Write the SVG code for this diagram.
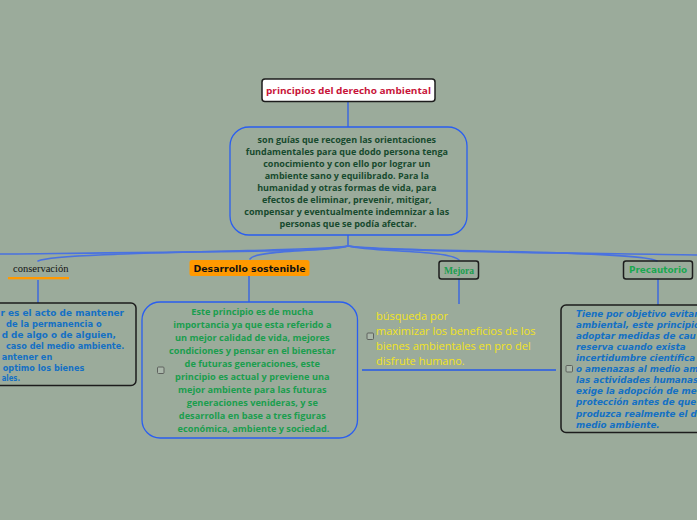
<svg xmlns="http://www.w3.org/2000/svg" width="697" height="520" viewBox="0 0 697 520">
<style>
.bg{fill:#9bab9b}
.ln{fill:none;stroke:#2f5fe6;stroke-width:1.3}
.br{fill:none;stroke:#4a72e0;stroke-width:1.6;stroke-linecap:round}
.box{fill:none;stroke:#1c1c1c;stroke-width:1.5}
.rbox{fill:none;stroke:#2a5ef0;stroke-width:1.3}
.chk{fill:#aab7aa;stroke:#5e625e;stroke-width:1}
.ubu{font-family:"Open Sans","DejaVu Sans",sans-serif}
.dv{font-family:"DejaVu Sans","Verdana",sans-serif;font-weight:bold}
.cen{font-size:9px;font-weight:bold;fill:#174a2e;text-anchor:middle}
.des{font-size:9.2px;font-weight:bold;fill:#1a9e4e;text-anchor:middle}
.mej{font-size:11px;fill:#f2e41e}
.con{font-size:8.5px;fill:#1470c4}
.pre{font-size:8.8px;fill:#1470c4;font-style:italic}
</style>
<rect class="bg" x="0" y="0" width="697" height="520"/>

<g id="connectors">
<line class="ln" x1="348" y1="102" x2="348" y2="127"/>
<line class="ln" x1="348" y1="235" x2="348" y2="246"/>
<path class="br" d="M348,246 C335,251 300,251 0,254"/>
<path class="br" d="M348,246 C320,252 60,251 38,261"/>
<path class="br" d="M348,246 C330,251 255,250 250,259"/>
<path class="br" d="M348,246 C370,252 450,250 459,260"/>
<path class="br" d="M348,246 C380,252 640,250 657,261"/>
<path class="br" d="M348,246 C380,251 500,252 697,255"/>
<line class="ln" x1="38" y1="280" x2="38" y2="303"/>
<line class="ln" x1="249" y1="276" x2="249" y2="302"/>
<line class="ln" x1="459" y1="279" x2="459" y2="304"/>
<line class="ln" x1="658" y1="279" x2="658" y2="305"/>
<line x1="362" y1="370" x2="556" y2="370" stroke="#2458e8" stroke-width="1.6"/>
</g>

<g id="root">
<rect x="262" y="79" width="173" height="22.5" rx="3" fill="#ffffff" stroke="#1c1c1c" stroke-width="1.5"/>
<text class="ubu" x="348.5" y="94" font-size="9.5" font-weight="bold" fill="#c8153a" text-anchor="middle" textLength="165" lengthAdjust="spacingAndGlyphs">principios del derecho ambiental</text>
</g>

<g id="central">
<rect class="rbox" x="230" y="127" width="237" height="108" rx="19"/>
<text class="ubu cen">
<tspan x="348" y="142.5">son guías que recogen las orientaciones</tspan>
<tspan x="348" y="154.5">fundamentales para que dodo persona tenga</tspan>
<tspan x="348" y="166.5">conocimiento y con ello por lograr un</tspan>
<tspan x="348" y="178.5">ambiente sano y equilibrado. Para la</tspan>
<tspan x="348" y="190.5">humanidad y otras formas de vida, para</tspan>
<tspan x="348" y="202.5">efectos de eliminar, prevenir, mitigar,</tspan>
<tspan x="348" y="214.5">compensar y eventualmente indemnizar a las</tspan>
<tspan x="348" y="226.5">personas que se podía afectar.</tspan>
</text>
</g>

<g id="conservacion">
<text x="13" y="272" font-family="Liberation Serif,serif" font-size="10.5" fill="#111">conservación</text>
<rect x="8" y="277" width="61" height="2.3" fill="#ff9900"/>
<rect class="box" x="-10" y="303" width="146" height="82.5" rx="5"/>
<text class="dv con" x="0.5" y="316" textLength="123.5" lengthAdjust="spacingAndGlyphs">r es el acto de mantener</text>
<text class="dv con" x="6" y="327" textLength="95.7" lengthAdjust="spacingAndGlyphs">de la permanencia o</text>
<text class="dv con" x="1.7" y="338" textLength="114.3" lengthAdjust="spacingAndGlyphs">d de algo o de alguien,</text>
<text class="dv con" x="6" y="348.8" textLength="118.3" lengthAdjust="spacingAndGlyphs">caso del medio ambiente.</text>
<text class="dv con" x="1.7" y="359.7" textLength="50.6" lengthAdjust="spacingAndGlyphs">antener en</text>
<text class="dv con" x="2.7" y="370.5" textLength="81.6" lengthAdjust="spacingAndGlyphs">optimo los bienes</text>
<text class="dv con" x="1.7" y="381.3" textLength="18.3" lengthAdjust="spacingAndGlyphs">ales.</text>
</g>

<g id="desarrollo">
<rect x="189.5" y="260" width="120" height="16" rx="2.5" fill="#ff9900"/>
<text class="dv" x="249.5" y="272" font-size="9.3" fill="#111" text-anchor="middle" textLength="112" lengthAdjust="spacingAndGlyphs">Desarrollo sostenible</text>
<rect class="rbox" x="142" y="302" width="215.5" height="136" rx="18"/>
<rect class="chk" x="157.5" y="367" width="6.5" height="6.5" rx="1"/>
<text class="ubu des">
<tspan x="253.5" y="315.3">Este principio es de mucha</tspan>
<tspan x="253.5" y="328.3">importancia ya que esta referido a</tspan>
<tspan x="253.5" y="341.2">un mejor calidad de vida, mejores</tspan>
<tspan x="253.5" y="354.2">condiciones y pensar en el bienestar</tspan>
<tspan x="253.5" y="367.2">de futuras generaciones, este</tspan>
<tspan x="253.5" y="380.2">principio es actual y  previene una</tspan>
<tspan x="253.5" y="393.1">mejor ambiente para las futuras</tspan>
<tspan x="253.5" y="406.1">generaciones venideras,  y se</tspan>
<tspan x="253.5" y="419.1">desarrolla en base a tres figuras</tspan>
<tspan x="253.5" y="432.1">económica, ambiente y sociedad.</tspan>
</text>
</g>

<g id="mejora">
<rect class="box" x="439" y="261" width="39.5" height="18" rx="2.5"/>
<text x="459" y="273.5" font-family="Liberation Serif,serif" font-size="9.5" font-weight="bold" fill="#1a9e4e" text-anchor="middle">Mejora</text>
<rect class="chk" x="367" y="333" width="6.5" height="6.5" rx="1"/>
<text class="ubu mej">
<tspan x="376" y="319.6">búsqueda por</tspan>
<tspan x="376" y="334.6">maximizar los beneficios de los</tspan>
<tspan x="376" y="349.6">bienes ambientales en pro del</tspan>
<tspan x="376" y="364.6">disfrute humano.</tspan>
</text>
</g>

<g id="precautorio">
<rect class="box" x="623.5" y="261" width="69" height="18" rx="2.5"/>
<text class="dv" x="658" y="273.3" font-size="8.8" fill="#1aa850" text-anchor="middle" textLength="58" lengthAdjust="spacingAndGlyphs">Precautorio</text>
<rect class="box" x="561" y="305" width="150" height="127.5" rx="5"/>
<rect class="chk" x="566" y="365.5" width="6.5" height="6.5" rx="1"/>
<text class="dv pre">
<tspan x="576" y="317.2">Tiene por objetivo evitar</tspan>
<tspan x="576" y="328.2">ambiental, este principio</tspan>
<tspan x="576" y="339.3">adoptar medidas de cau</tspan>
<tspan x="576" y="350.3">reserva cuando exista</tspan>
<tspan x="576" y="361.3">incertidumbre científica</tspan>
<tspan x="576" y="372.4">o amenazas al medio am</tspan>
<tspan x="576" y="383.4">las actividades humanas</tspan>
<tspan x="576" y="394.4">exige la adopción de me</tspan>
<tspan x="576" y="405.4">protección antes de que</tspan>
<tspan x="576" y="416.5">produzca realmente el d</tspan>
<tspan x="576" y="427.5">medio ambiente.</tspan>
</text>
</g>
</svg>
